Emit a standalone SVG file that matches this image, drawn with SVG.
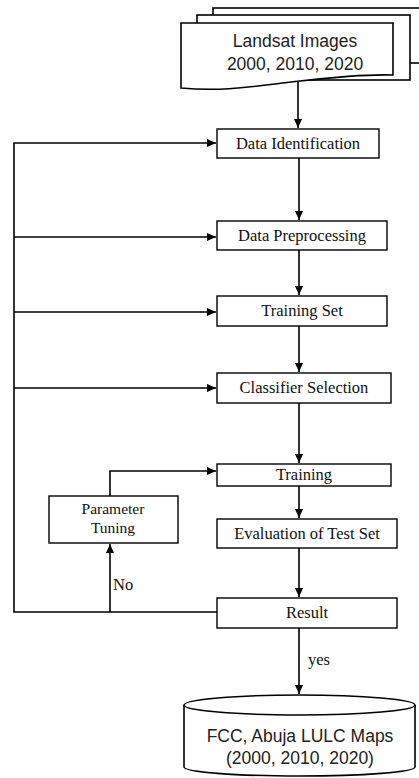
<svg xmlns="http://www.w3.org/2000/svg" width="419" height="778" viewBox="0 0 419 778">
<style>
.box{fill:#fff;stroke:#000;stroke-width:1.4}
.doc{fill:#fff;stroke:#000;stroke-width:1.6}
.t{font-family:"Liberation Serif","Times New Roman",serif;font-size:16.5px;fill:#111;text-anchor:middle}
.p{font-size:15.5px}
.s{font-family:"Liberation Sans",Arial,sans-serif;font-size:17.5px;fill:#222;text-anchor:middle}
.c{fill:none;stroke:#000;stroke-width:1.6}
</style>
<defs>
<marker id="ah" markerWidth="10" markerHeight="10" refX="9" refY="4" orient="auto" markerUnits="userSpaceOnUse">
<path d="M0,0 L9,4 L0,8 Z" fill="#000"/>
</marker>
</defs>
<rect width="419" height="778" fill="#fff"/>
<g id="connectors">
<path class="c" d="M298,82 V128" marker-end="url(#ah)"/>
<path class="c" d="M299,158 V220" marker-end="url(#ah)"/>
<path class="c" d="M299,250 V295" marker-end="url(#ah)"/>
<path class="c" d="M299,326 V372" marker-end="url(#ah)"/>
<path class="c" d="M299,403 V463" marker-end="url(#ah)"/>
<path class="c" d="M299,486 V518" marker-end="url(#ah)"/>
<path class="c" d="M299,548 V597" marker-end="url(#ah)"/>
<path class="c" d="M299,628 V694" marker-end="url(#ah)"/>
<path class="c" d="M217,612 H14 V143 H216" marker-end="url(#ah)"/>
<path class="c" d="M14,237 H216" marker-end="url(#ah)"/>
<path class="c" d="M14,312 H216" marker-end="url(#ah)"/>
<path class="c" d="M14,388 H216" marker-end="url(#ah)"/>
<path class="c" d="M110,612 V544" marker-end="url(#ah)"/>
<path class="c" d="M110,496 V471 H216" marker-end="url(#ah)"/>
<text x="113" y="590" font-family="Liberation Serif,serif" font-size="16.5" fill="#111">No</text>
<text x="308" y="665" font-family="Liberation Serif,serif" font-size="16.5" fill="#111">yes</text>
</g>
<g id="landsat">
<rect class="doc" x="213" y="8" width="215" height="55"/>
<rect class="doc" x="197" y="15" width="213" height="65"/>
<path class="doc" d="M181,23 H393 V75 C365,74 335,77 300,81 C255,86 225,92 181,88 Z"/>
<text class="s" x="295" y="47">Landsat Images</text>
<text class="s" x="295" y="70">2000, 2010, 2020</text>
</g>
<g id="data-identification">
<rect class="box" x="217" y="129" width="162" height="29"/>
<text class="t" x="298" y="149">Data Identification</text>
</g>
<g id="data-preprocessing">
<rect class="box" x="217" y="221" width="170" height="29"/>
<text class="t" x="302" y="241">Data Preprocessing</text>
</g>
<g id="training-set">
<rect class="box" x="217" y="296" width="170" height="30"/>
<text class="t" x="302" y="316">Training Set</text>
</g>
<g id="classifier-selection">
<rect class="box" x="217" y="373" width="174" height="30"/>
<text class="t" x="304" y="393">Classifier Selection</text>
</g>
<g id="training">
<rect class="box" x="217" y="464" width="174" height="22"/>
<text class="t" x="304" y="480">Training</text>
</g>
<g id="parameter-tuning">
<rect class="box" x="49" y="496" width="129" height="47"/>
<text class="t p" x="113" y="514">Parameter</text>
<text class="t p" x="113" y="533">Tuning</text>
</g>
<g id="evaluation">
<rect class="box" x="217" y="519" width="180" height="29"/>
<text class="t" x="307" y="539">Evaluation of Test Set</text>
</g>
<g id="result">
<rect class="box" x="217" y="598" width="180" height="30"/>
<text class="t" x="307" y="618">Result</text>
</g>
<g id="maps">
<path class="doc" d="M184,705 A115.5,10 0 0 1 415,705 V767 A115.5,9 0 0 1 184,767 Z"/>
<path class="doc" d="M184,705 A115.5,10 0 0 0 415,705"/>
<text class="s" x="300" y="742">FCC, Abuja LULC Maps</text>
<text class="s" x="300" y="764">(2000, 2010, 2020)</text>
</g>
</svg>
